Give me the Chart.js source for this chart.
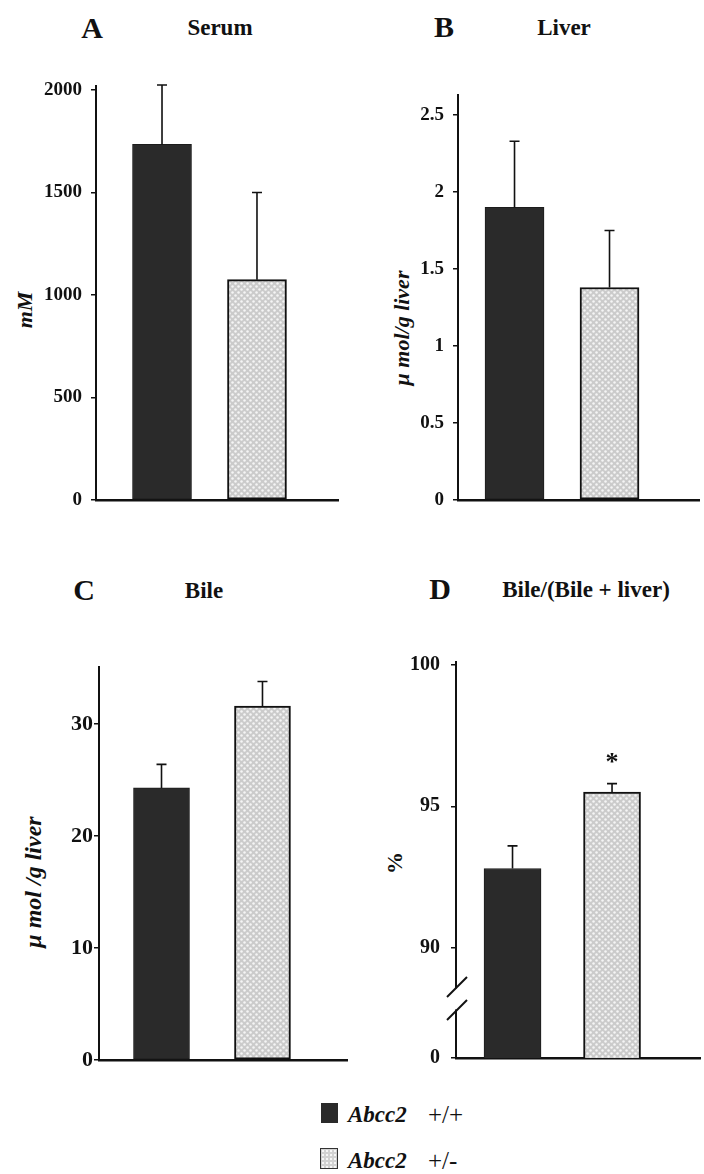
<!DOCTYPE html>
<html><head><meta charset="utf-8">
<script src="https://cdn.jsdelivr.net/npm/chart.js@4.4.1/dist/chart.umd.min.js"></script>
<style>
body{margin:0;background:#fff;width:704px;height:1174px;position:relative;overflow:hidden;font-family:'Liberation Serif','Times New Roman',serif;color:#111}
canvas{position:absolute}
.t{position:absolute;transform:translate(-50%,-50%);font-weight:bold;line-height:1;white-space:nowrap}
.yt{position:absolute;transform:translate(-50%,-50%) rotate(-90deg);font-weight:bold;font-style:italic;line-height:1;white-space:nowrap}
.lg{position:absolute;transform:translateY(-50%);line-height:1;white-space:nowrap}
</style></head><body>
<div class="t" style="left:92px;top:28px;font-size:30px">A</div>
<div class="t" style="left:220px;top:27px;font-size:23px">Serum</div>
<div class="t" style="left:444px;top:27px;font-size:30px">B</div>
<div class="t" style="left:564px;top:27px;font-size:23px">Liver</div>
<div class="t" style="left:84px;top:590px;font-size:30px">C</div>
<div class="t" style="left:204px;top:590px;font-size:23px">Bile</div>
<div class="t" style="left:440px;top:589px;font-size:30px">D</div>
<div class="t" style="left:586px;top:589px;font-size:23px">Bile/(Bile + liver)</div>

<div class="yt" style="left:25px;top:310px;font-size:22px">mM</div>
<div class="yt" style="left:402px;top:328px;font-size:22px">μ mol/g liver</div>
<div class="yt" style="left:33px;top:882px;font-size:24px">μ mol /g liver</div>
<div class="yt" style="left:395px;top:863px;font-size:22px;font-style:normal">%</div>

<canvas id="cA" width="352" height="530" style="left:0;top:0"></canvas>
<canvas id="cB" width="352" height="530" style="left:352px;top:0"></canvas>
<canvas id="cC" width="352" height="530" style="left:0;top:560px"></canvas>
<canvas id="cD" width="352" height="530" style="left:352px;top:560px"></canvas>

<div style="position:absolute;left:321px;top:1103px;width:17px;height:20px;background:#2a2a2a"></div>
<div class="lg" style="left:348px;top:1114px;font-size:23px;font-weight:bold;font-style:italic">Abcc2</div>
<div class="lg" style="left:428px;top:1114px;font-size:25px">+/+</div>
<div style="position:absolute;left:320px;top:1148px;width:16px;height:19px;border:1.5px solid #333;background-color:#d2d2d2;background-image:radial-gradient(#f6f6f6 1px,transparent 1.4px);background-size:4px 4px"></div>
<div class="lg" style="left:348px;top:1160px;font-size:23px;font-weight:bold;font-style:italic">Abcc2</div>
<div class="lg" style="left:428px;top:1160px;font-size:25px">+/-</div>

<script>
// ---- data ----
const groups = ['Abcc2 +/+', 'Abcc2 +/-'];
const groupIndex = [1, 2];

const serumMean = [1735, 1075];
const serumSD   = [290, 425];
const serumTicks = [0, 500, 1000, 1500, 2000];

const liverMean = [1.90, 1.38];
const liverSD   = [0.43, 0.37];
const liverTicks = [0, 0.5, 1, 1.5, 2, 2.5];

const bileMean = [24.3, 31.6];
const bileSD   = [2.1, 2.2];
const bileTicks = [0, 10, 20, 30];

const ratioMean = [92.8, 95.5];
const ratioSD   = [0.8, 0.3];
const ratioSignif = ['', '*'];
const ratioTicks = [90, 95, 100];
const ratioBaseLabel = '0';

// ---- styles ----
function grayPattern(){
  const c = document.createElement('canvas'); c.width = 6; c.height = 6;
  const g = c.getContext('2d');
  g.fillStyle = '#cbcbcb'; g.fillRect(0,0,6,6);
  g.fillStyle = '#f5f5f5';
  g.beginPath(); g.arc(1.5,1.5,1.25,0,7); g.fill();
  g.beginPath(); g.arc(4.5,4.5,1.25,0,7); g.fill();
  return g.createPattern(c,'repeat');
}
const PAT = grayPattern();
const DARK = '#2a2a2a';

const errorBarPlugin = {
  id: 'errorBars',
  afterDatasetsDraw(chart){
    const {ctx} = chart; const y = chart.scales.y;
    chart.data.datasets.forEach((ds, di) => {
      const meta = chart.getDatasetMeta(di);
      meta.data.forEach((bar, i) => {
        const top = y.getPixelForValue(ds.data[i].y + ds.sd[i]);
        ctx.save();
        ctx.strokeStyle = '#111'; ctx.lineWidth = 1.6;
        ctx.beginPath();
        ctx.moveTo(bar.x, bar.y); ctx.lineTo(bar.x, top);
        ctx.moveTo(bar.x - 5, top); ctx.lineTo(bar.x + 5, top);
        ctx.stroke();
        if (ds.signif && ds.signif[i]) {
          ctx.font = 'bold 26px "Liberation Serif"';
          ctx.fillStyle = '#111'; ctx.textAlign = 'center'; ctx.textBaseline = 'middle';
          ctx.fillText(ds.signif[i], bar.x, top - 20);
        }
        ctx.restore();
      });
    });
  }
};

const breakPlugin = {
  id: 'axisBreak',
  afterDraw(chart){
    if (!chart.options.plugins.axisBreak || !chart.options.plugins.axisBreak.on) return;
    const {ctx, chartArea} = chart; const y = chart.scales.y;
    const p = y.getPixelForValue(ratioTicks[0]);
    const yb = p + (chartArea.bottom - p) * 0.46;
    const x = chartArea.left;
    ctx.save();
    ctx.fillStyle = '#fff'; ctx.fillRect(x - 3, yb - 10, 6, 21);
    ctx.strokeStyle = '#111'; ctx.lineWidth = 2;
    [-11.5, 11.5].forEach(d => {
      ctx.beginPath(); ctx.moveTo(x - 9, yb + d + 10); ctx.lineTo(x + 11, yb + d - 10); ctx.stroke();
    });
    ctx.restore();
  }
};

function makePanel(id, o){
  return new Chart(document.getElementById(id), {
    type: 'bar',
    data: {
      labels: groups,
      datasets: [{
        data: groupIndex.map((x, i) => ({x: x, y: o.mean[i]})),
        sd: o.sd, signif: o.signif,
        backgroundColor: [DARK, PAT],
        borderColor: ['#1c1c1c', '#111'],
        borderWidth: [1, 2],
        borderSkipped: false,
        barThickness: o.barW
      }]
    },
    options: {
      responsive: false, animation: false, events: [],
      layout: {padding: {top: o.pad[0], right: o.pad[1], bottom: o.pad[2], left: 0}},
      plugins: {legend: {display: false}, tooltip: {enabled: false}, axisBreak: {on: !!o.brk}},
      scales: {
        x: {
          type: 'linear', min: o.xr[0], max: o.xr[1], offset: false,
          grid: {display: false, drawTicks: false},
          ticks: {display: false},
          border: {display: true, color: '#111', width: 2.5},
          afterFit(s){ s.height = 0; }
        },
        y: {
          type: 'linear', min: o.yr[0], max: o.yr[1],
          grid: {display: true, drawOnChartArea: false, drawTicks: true, tickLength: 5, color: '#111', lineWidth: 1.5},
          border: {display: true, color: '#111', width: 2},
          ticks: {
            autoSkip: false, includeBounds: false, color: '#111', padding: o.tickPad,
            font: {family: 'Liberation Serif', weight: 'bold', size: o.tickSize},
            callback: (v) => (o.baseLabel !== undefined && v === o.yr[0]) ? o.baseLabel : String(v)
          },
          afterBuildTicks(s){
            const vals = (o.baseLabel !== undefined ? [o.yr[0]] : []).concat(o.ticks);
            s.ticks = vals.map(v => ({value: v}));
          },
          afterFit(s){ s.width = o.yWidth; }
        }
      }
    },
    plugins: [errorBarPlugin, breakPlugin]
  });
}

makePanel('cA', {mean: serumMean, sd: serumSD, ticks: serumTicks, yr: [0, 2020], xr: [0.305, 2.853],
  barW: 59, yWidth: 96, pad: [86, 14, 30], tickSize: 19, tickPad: 9});
makePanel('cB', {mean: liverMean, sd: liverSD, ticks: liverTicks, yr: [0, 2.63], xr: [0.405, 2.942],
  barW: 59, yWidth: 106, pad: [95, 5, 30], tickSize: 19, tickPad: 9});
makePanel('cC', {mean: bileMean, sd: bileSD, ticks: bileTicks, yr: [0, 35.1], xr: [0.381, 2.837],
  barW: 56, yWidth: 99, pad: [107, 5, 30], tickSize: 22, tickPad: 1});
makePanel('cD', {mean: ratioMean, sd: ratioSD, signif: ratioSignif, ticks: ratioTicks, yr: [86.1, 100.1], xr: [0.432, 2.884],
  barW: 57, yWidth: 104, pad: [102, 4, 32], tickSize: 20, tickPad: 11, baseLabel: ratioBaseLabel, brk: true});
</script>
</body></html>
